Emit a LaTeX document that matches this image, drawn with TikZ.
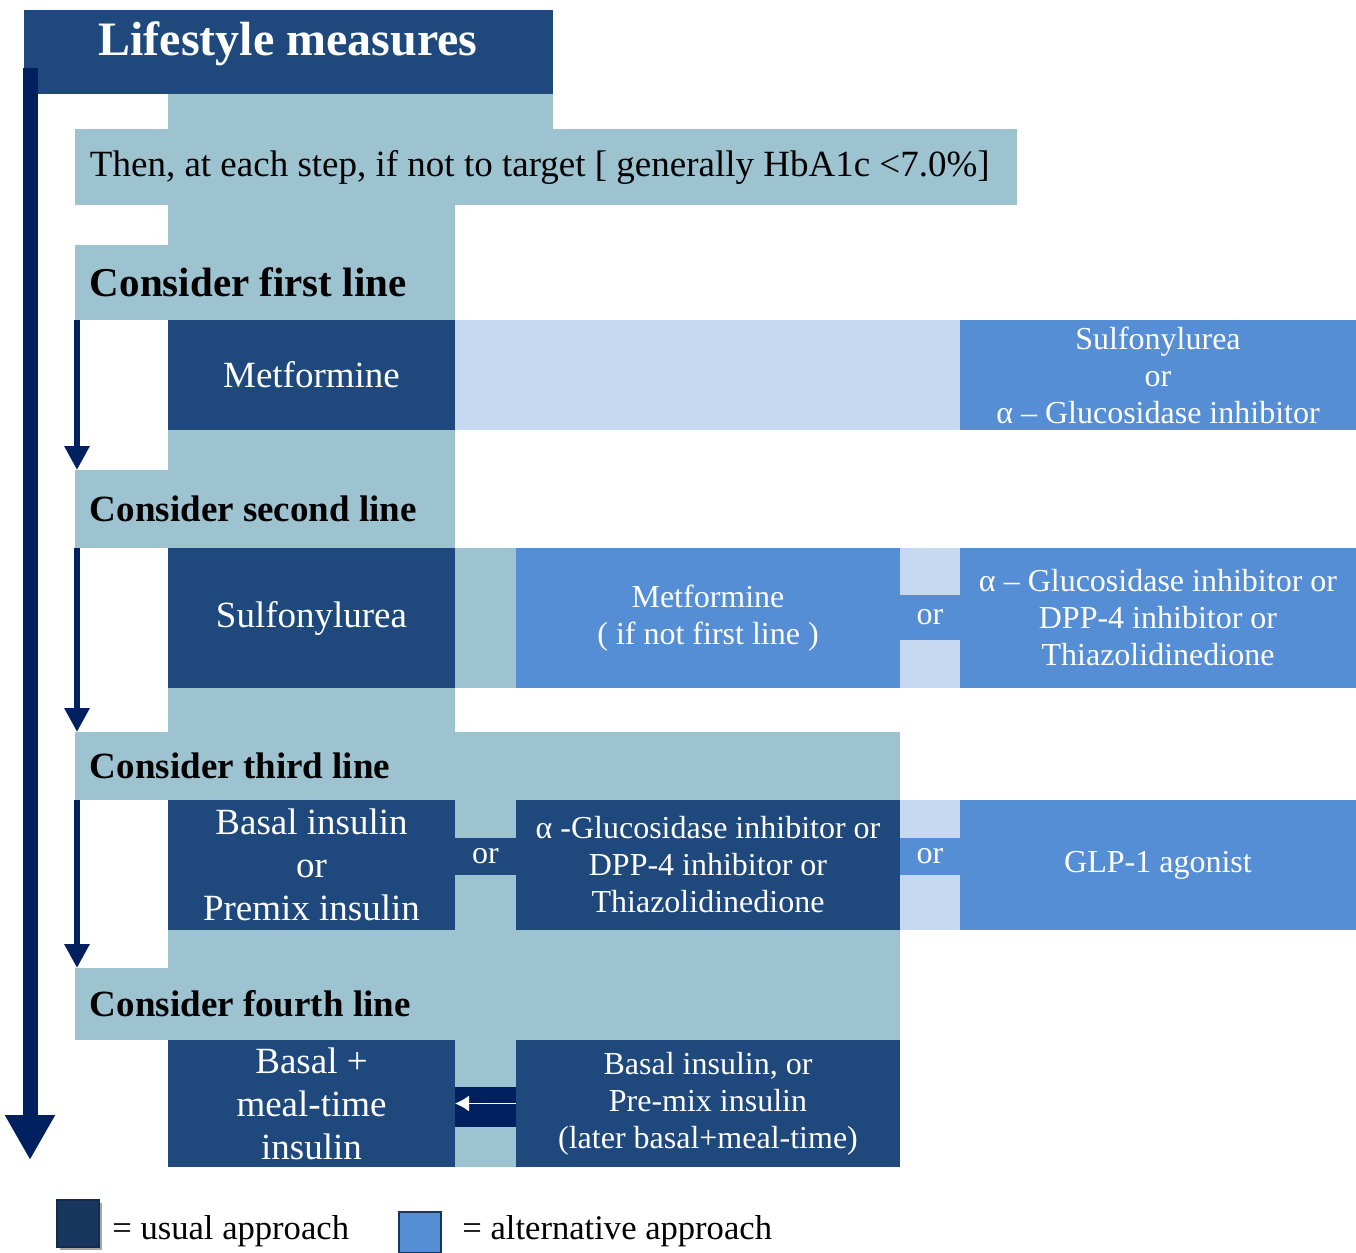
\documentclass[tikz,border=0pt]{standalone}
\usepackage{fontspec}
\setmainfont{Liberation Serif}
\usetikzlibrary{arrows.meta,shadows}
\definecolor{usualblue}{HTML}{1F497D}
\definecolor{altblue}{HTML}{558ED5}
\definecolor{paleblue}{HTML}{C6D9F1}
\definecolor{spinegray}{HTML}{9DC3D0}
\definecolor{navy}{HTML}{002060}
\definecolor{keydark}{HTML}{17375E}

\begin{document}
\begin{tikzpicture}[x=0.5pt, y=-0.5pt,
    box/.style={rectangle, inner sep=0pt, outer sep=0pt, anchor=north west},
    wh/.style 2 args={minimum width=#1*0.5pt, minimum height=#2*0.5pt},
    spine/.style={box, fill=spinegray},
    pale/.style={box, fill=paleblue},
    usual/.style={box, fill=usualblue, text=white, align=center, font=\fontsize{18.5}{21.5}\selectfont},
    alt/.style={box, fill=altblue, text=white, align=center, font=\fontsize{16}{18.5}\selectfont},
    heading/.style={box, fill=spinegray, inner xsep=7.5pt, align=left,
      execute at begin node={\spaceskip=0pt\xspaceskip=0pt},
      font=\bfseries\fontsize{18.5}{21.5}\selectfont},
    steparrow/.style={navy, line width=3pt, -{Triangle[width=12pt,length=12pt]}}]
  \useasboundingbox (0,0) rectangle (1356,1253);

  % light spine behind the steps
  \node[spine, wh={385}{35}] (spine0) at (168,94) {};
  \node[spine, wh={287}{40}] (spine1) at (168,205) {};
  \node[spine, wh={287}{40}] (spine2) at (168,430) {};
  \node[spine, wh={287}{44}] (spine3) at (168,688) {};
  \node[spine, wh={732}{38}] (spine4) at (168,930) {};

  % LIFESTYLE
  \node[box, fill=usualblue, wh={529}{84}] (title) at (24,10) {};
  \node[anchor=base, text=white, font=\bfseries\fontsize{24}{28}\selectfont] (titletext) at (288,55) {Lifestyle measures};
  \node[heading, font=\fontsize{18.5}{21.5}\selectfont, text width=456pt, wh={942}{76}] (target) at (75,129) {\mbox{Then, at each step, if not to target [ generally HbA1c <7.0\%]}};

  % FIRST LINE
  \node[heading, font=\bfseries\fontsize{20.5}{24}\selectfont, text width=175pt, wh={380}{75}] (first) at (75,245) {Consider first line};
  \node[usual, wh={287}{110}] (metf) at (168,320) {Metformine};
  \node[pale, wh={505}{110}] (gap1) at (455,320) {};
  \node[alt, wh={396}{110}] (alt1) at (960,320) {Sulfonylurea\\or\\α – Glucosidase inhibitor};

  % SECOND LINE
  \node[heading, text width=175pt, wh={380}{78}] (second) at (75,470) {Consider second line};
  \node[usual, wh={287}{140}] (sulf) at (168,548) {Sulfonylurea};
  \node[spine, wh={61}{140}] (strip2) at (455,548) {};
  \node[alt, wh={384}{140}] (metf2) at (516,548) {Metformine\\( if not first line )};
  \node[pale, wh={60}{140}] (orcell2) at (900,548) {};
  \node[alt, wh={60}{45}] (or2) at (900,595) {or};
  \node[alt, wh={396}{140}] (alt2) at (960,548) {α – Glucosidase inhibitor or\\DPP-4 inhibitor or\\Thiazolidinedione};

  % THIRD LINE
  \node[heading, text width=397.5pt, wh={825}{68}] (third) at (75,732) {Consider third line};
  \node[usual, wh={287}{130}] (basal) at (168,800) {Basal insulin\\or\\Premix insulin};
  \node[spine, wh={61}{130}] (strip3) at (455,800) {};
  \node[usual, font=\fontsize{16}{18.5}\selectfont, wh={61}{37}] (or3a) at (455,838) {or};
  \node[usual, font=\fontsize{16}{18.5}\selectfont, wh={384}{130}] (oral) at (516,800) {α -Glucosidase inhibitor or\\DPP-4 inhibitor or\\Thiazolidinedione};
  \node[pale, wh={60}{130}] (orcell3) at (900,800) {};
  \node[alt, wh={60}{37}] (or3b) at (900,838) {or};
  \node[alt, wh={396}{130}] (glp) at (960,800) {GLP-1 agonist};

  % FOURTH LINE
  \node[heading, text width=397.5pt, wh={825}{72}] (fourth) at (75,968) {Consider fourth line};
  \node[usual, wh={287}{127}] (bmt) at (168,1040) {Basal +\\meal-time\\insulin};
  \node[spine, wh={61}{127}] (strip4) at (455,1040) {};
  \node[box, fill=navy, wh={61}{40}] (band4) at (455,1087) {};
  \node[usual, font=\fontsize{16}{18.5}\selectfont, wh={384}{127}] (ins) at (516,1040) {Basal insulin, or\\Pre-mix insulin\\(later basal+meal-time)};

  % arrows
  \coordinate (top) at (30,68);
  \coordinate (bottom) at (30,1160);
  \draw[navy, line width=7.5pt, -{Triangle[width=23.5pt,length=22.5pt]}] (top) -- (bottom);
  \draw[steparrow] ([xshift=1pt]first.south west) -- ([xshift=1pt]second.north west);
  \draw[steparrow] ([xshift=1pt]second.south west) -- ([xshift=1pt]third.north west);
  \draw[steparrow] ([xshift=1pt]third.south west) -- ([xshift=1pt]fourth.north west);
  \draw[white, line width=0.8pt, -{Latex[width=8pt,length=7pt]}] (ins.west) -- (bmt.east);

  % legend
  \node[box, fill=keydark, draw=keydark!80!black, line width=0.8pt, wh={42}{47},
        drop shadow={shadow xshift=1.5pt, shadow yshift=-1.5pt, fill=gray!70, opacity=1}] (usualkey) at (57,1200) {};
  \node[anchor=base west, inner sep=0pt, font=\fontsize{17.3}{20}\selectfont] (usualtext) at (112,1239) {= usual approach};
  \node[box, fill=altblue, draw=keydark, line width=1pt, wh={42}{41}] (altkey) at (399,1212) {};
  \node[anchor=base west, inner sep=0pt, font=\fontsize{17.3}{20}\selectfont] (alttext) at (462,1239) {= alternative approach};
\end{tikzpicture}
\end{document}
